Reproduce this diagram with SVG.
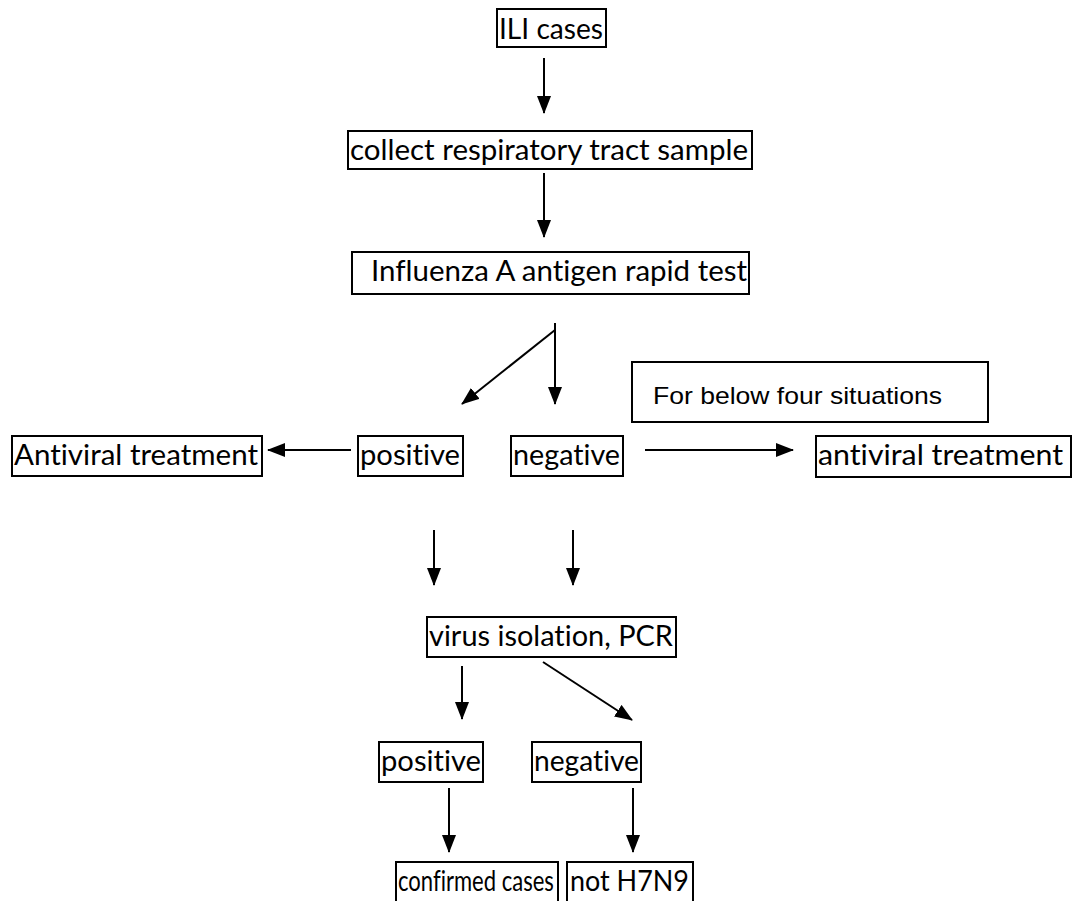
<svg xmlns="http://www.w3.org/2000/svg" width="1074" height="901" viewBox="0 0 1074 901">
<defs>
<marker id="ah" markerUnits="userSpaceOnUse" markerWidth="18" markerHeight="14" refX="17" refY="7" orient="auto">
<path d="M0,0 L18,7 L0,14 z" fill="#000"/>
</marker>
<style>
.box{fill:#fff;stroke:#000;stroke-width:2}
.t{font-family:Lato,"Noto Sans","Liberation Sans",sans-serif;font-size:29px;fill:#000;font-variant-ligatures:none}
.a{font-family:"Liberation Sans",Arial,sans-serif;font-size:24px;fill:#000}
.c{stroke:#000;stroke-width:2;fill:none;marker-end:url(#ah)}
</style>
</defs>
<rect width="1074" height="901" fill="#fff"/>
<g id="connectors">
<line class="c" x1="544" y1="58" x2="544" y2="113"/>
<line class="c" x1="544" y1="173" x2="544" y2="237"/>
<line class="c" x1="555" y1="323" x2="555" y2="404"/>
<line class="c" x1="555" y1="330" x2="462" y2="404"/>
<line class="c" x1="351" y1="450" x2="268" y2="450"/>
<line class="c" x1="645" y1="450" x2="793" y2="450"/>
<line class="c" x1="434" y1="530" x2="434" y2="585"/>
<line class="c" x1="573" y1="530" x2="573" y2="585"/>
<line class="c" x1="462" y1="666" x2="462" y2="719"/>
<line class="c" x1="543" y1="662" x2="632" y2="720"/>
<line class="c" x1="449" y1="788" x2="449" y2="852"/>
<line class="c" x1="633" y1="788" x2="633" y2="852"/>
</g>
<g id="ili"><rect class="box" x="497" y="9" width="109" height="38"/><text class="t" x="499" y="39" textLength="104" lengthAdjust="spacingAndGlyphs">ILI cases</text></g>
<g id="collect"><rect class="box" x="348" y="131" width="404" height="38"/><text class="t" x="350" y="160" textLength="398" lengthAdjust="spacingAndGlyphs">collect respiratory tract sample</text></g>
<g id="influenza"><rect class="box" x="352" y="252" width="397" height="42"/><text class="t" x="371" y="281" textLength="376" lengthAdjust="spacingAndGlyphs">Influenza A antigen rapid test</text></g>
<g id="four"><rect class="box" x="632" y="362" width="356" height="60"/><text class="a" x="653" y="404" textLength="289" lengthAdjust="spacingAndGlyphs">For below four situations</text></g>
<g id="antiviral-left"><rect class="box" x="12" y="436" width="250" height="40"/><text class="t" x="14" y="465" textLength="244" lengthAdjust="spacingAndGlyphs">Antiviral treatment</text></g>
<g id="positive1"><rect class="box" x="358" y="436" width="105" height="40"/><text class="t" x="360" y="465" textLength="100" lengthAdjust="spacingAndGlyphs">positive</text></g>
<g id="negative1"><rect class="box" x="511" y="436" width="112" height="40"/><text class="t" x="513" y="465" textLength="107" lengthAdjust="spacingAndGlyphs">negative</text></g>
<g id="antiviral-right"><rect class="box" x="816" y="436" width="255" height="41"/><text class="t" x="818" y="465" textLength="245" lengthAdjust="spacingAndGlyphs">antiviral treatment</text></g>
<g id="virus"><rect class="box" x="427" y="617" width="249" height="40"/><text class="t" x="429" y="646" textLength="244" lengthAdjust="spacingAndGlyphs">virus isolation, PCR</text></g>
<g id="positive2"><rect class="box" x="379" y="742" width="104" height="40"/><text class="t" x="381" y="771" textLength="100" lengthAdjust="spacingAndGlyphs">positive</text></g>
<g id="negative2"><rect class="box" x="532" y="742" width="109" height="40"/><text class="t" x="534" y="771" textLength="105" lengthAdjust="spacingAndGlyphs">negative</text></g>
<g id="confirmed"><rect class="box" x="396" y="862" width="162" height="44"/><text class="t" transform="translate(398,891) scale(0.76,1)" x="0" y="0">confirmed cases</text></g>
<g id="noth7n9"><rect class="box" x="567" y="862" width="126" height="44"/><text class="t" x="570" y="891" textLength="119" lengthAdjust="spacingAndGlyphs">not H7N9</text></g>
</svg>
